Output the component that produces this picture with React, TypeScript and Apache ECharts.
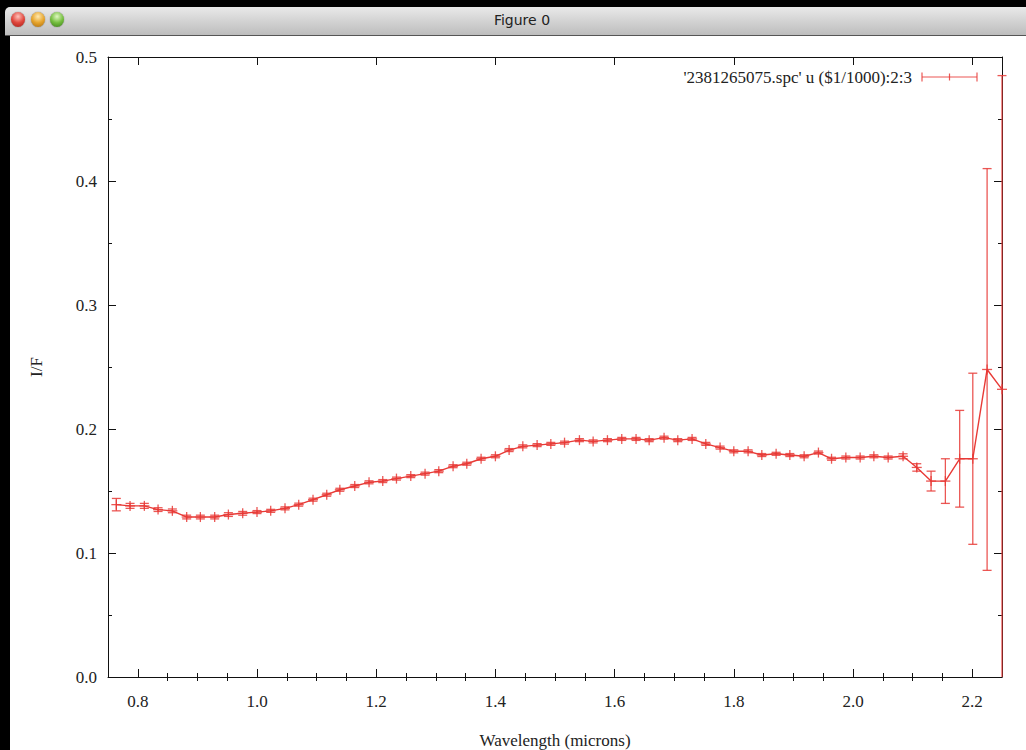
import React, { useEffect, useRef } from "react";
import * as echarts from "echarts";

// ---- data ----
const WAVELENGTH = [
  0.764, 0.787, 0.811, 0.834, 0.858, 0.882, 0.905, 0.929, 0.952, 0.976,
  1.000, 1.023, 1.047, 1.070, 1.094, 1.117, 1.139, 1.164, 1.188, 1.211,
  1.234, 1.258, 1.282, 1.305, 1.329, 1.352, 1.376, 1.400, 1.423, 1.446,
  1.470, 1.493, 1.516, 1.541, 1.564, 1.588, 1.612, 1.636, 1.658, 1.683,
  1.706, 1.730, 1.753, 1.777, 1.800, 1.824, 1.847, 1.871, 1.894, 1.918,
  1.942, 1.964, 1.988, 2.012, 2.035, 2.059, 2.084, 2.107, 2.131, 2.155,
  2.179, 2.201, 2.225, 2.250,
];
const IF_VALUE = [
  0.139, 0.138, 0.138, 0.135, 0.134, 0.129, 0.129, 0.129, 0.131, 0.132,
  0.133, 0.134, 0.136, 0.139, 0.143, 0.147, 0.151, 0.154, 0.157, 0.158,
  0.160, 0.162, 0.164, 0.166, 0.170, 0.172, 0.176, 0.178, 0.183, 0.186,
  0.187, 0.188, 0.189, 0.191, 0.190, 0.191, 0.192, 0.192, 0.191, 0.193,
  0.191, 0.192, 0.188, 0.185, 0.182, 0.182, 0.179, 0.180, 0.179, 0.178,
  0.181, 0.176, 0.177, 0.177, 0.178, 0.177, 0.178, 0.169, 0.158, 0.158,
  0.176, 0.176, 0.248, 0.232,
];
const IF_ERROR = [
  0.005, 0.002, 0.002, 0.0015, 0.0015, 0.0015, 0.0015, 0.0015, 0.0015, 0.0015,
  0.0012, 0.0012, 0.0012, 0.0012, 0.0012, 0.0012, 0.0012, 0.0012, 0.0012, 0.0012,
  0.0012, 0.0012, 0.0012, 0.0012, 0.0012, 0.0012, 0.0012, 0.0012, 0.0012, 0.0012,
  0.0012, 0.0012, 0.0012, 0.0012, 0.0012, 0.0012, 0.0012, 0.0012, 0.0012, 0.0012,
  0.0012, 0.0012, 0.0012, 0.0012, 0.0012, 0.0012, 0.0012, 0.0012, 0.0012, 0.0012,
  0.0012, 0.0012, 0.0012, 0.0012, 0.0012, 0.0012, 0.002, 0.003, 0.008, 0.018,
  0.039, 0.069, 0.162, 0.253,
];
const X_MAJOR_TICKS = [0.8, 1.0, 1.2, 1.4, 1.6, 1.8, 2.0, 2.2];
const X_MINOR_TICKS = [
  0.85, 0.9, 0.95, 1.05, 1.1, 1.15, 1.25, 1.3, 1.35, 1.45, 1.5, 1.55,
  1.65, 1.7, 1.75, 1.85, 1.9, 1.95, 2.05, 2.1, 2.15,
];
const X_MIN = 0.75;
const X_MAX = 2.25;
const Y_MIN = 0.0;
const Y_MAX = 0.5;
const Y_STEP = 0.1;
const LEGEND_LABEL = "'2381265075.spc' u ($1/1000):2:3";
const X_NAME = "Wavelength (microns)";
const Y_NAME = "I/F";
const WINDOW_TITLE = "Figure 0";

const RED = "#e83a36";
const SERIF = "'Liberation Serif', 'Times New Roman', serif";
const FS = 17;
const AXIS_COLOR = "#111";
const LABEL_COLOR = "#222";

export default function App() {
  const ref = useRef<HTMLDivElement>(null);

  useEffect(() => {
    if (!ref.current) return;
    const chart = echarts.init(ref.current, undefined, { renderer: "svg" });

    const lineStyle = { color: AXIS_COLOR, width: 1 };
    const fmt = (v: number) => v.toFixed(1);

    const xBase = {
      type: "value" as const,
      min: X_MIN,
      max: X_MAX,
      gridIndex: 0,
      splitLine: { show: false },
    };
    const yBase = {
      type: "value" as const,
      min: Y_MIN,
      max: Y_MAX,
      interval: Y_STEP,
      gridIndex: 0,
      splitLine: { show: false },
      minorTick: { show: true, splitNumber: 2, length: 4, lineStyle },
      minorSplitLine: { show: false },
    };

    const option: any = {
      animation: false,
      backgroundColor: "transparent",
      grid: {
        left: 108,
        top: 57,
        width: 894,
        height: 620,
        containLabel: false,
        outerBoundsMode: "none",
      },
      xAxis: [
        {
          ...xBase,
          position: "bottom",
          axisLine: { show: true, onZero: false, lineStyle },
          axisTick: { show: true, inside: true, length: 8, lineStyle, customValues: X_MAJOR_TICKS },
          axisLabel: {
            show: true,
            customValues: X_MAJOR_TICKS,
            formatter: fmt,
            margin: 16,
            color: LABEL_COLOR,
            fontFamily: SERIF,
            fontSize: FS,
          },
          name: X_NAME,
          nameLocation: "middle",
          nameGap: 55,
          nameTextStyle: { color: LABEL_COLOR, fontFamily: SERIF, fontSize: FS },
        },
        {
          ...xBase,
          position: "bottom",
          axisLine: { show: false },
          axisTick: { show: true, inside: true, length: 4, lineStyle, customValues: X_MINOR_TICKS },
          axisLabel: { show: false },
        },
        {
          ...xBase,
          position: "top",
          axisLine: { show: true, onZero: false, lineStyle },
          axisTick: { show: true, inside: true, length: 8, lineStyle, customValues: X_MAJOR_TICKS },
          axisLabel: { show: false },
        },
        {
          ...xBase,
          position: "top",
          axisLine: { show: false },
          axisTick: { show: true, inside: true, length: 4, lineStyle, customValues: X_MINOR_TICKS },
          axisLabel: { show: false },
        },
      ],
      yAxis: [
        {
          ...yBase,
          position: "left",
          axisLine: { show: true, onZero: false, lineStyle },
          axisTick: { show: true, inside: true, length: 8, lineStyle },
          axisLabel: {
            show: true,
            formatter: fmt,
            margin: 11,
            color: LABEL_COLOR,
            fontFamily: SERIF,
            fontSize: FS,
          },
          name: Y_NAME,
          nameLocation: "middle",
          nameGap: 63,
          nameRotate: 90,
          nameTextStyle: { color: LABEL_COLOR, fontFamily: SERIF, fontSize: FS },
        },
        {
          ...yBase,
          position: "right",
          axisLine: { show: true, onZero: false, lineStyle },
          axisTick: { show: true, inside: true, length: 8, lineStyle },
          axisLabel: { show: false },
        },
      ],
      graphic: [
        {
          type: "text",
          x: 912,
          y: 77,
          style: {
            text: LEGEND_LABEL,
            fill: LABEL_COLOR,
            font: `${FS}px ${SERIF}`,
            align: "right",
            verticalAlign: "middle",
          },
        },
        {
          type: "group",
          children: [
            { type: "line", shape: { x1: 922, y1: 77, x2: 977, y2: 77 }, style: { stroke: RED, lineWidth: 1.2, opacity: 0.85 } },
            { type: "line", shape: { x1: 922, y1: 72.5, x2: 922, y2: 81.5 }, style: { stroke: RED, lineWidth: 1.2, opacity: 0.85 } },
            { type: "line", shape: { x1: 977, y1: 72.5, x2: 977, y2: 81.5 }, style: { stroke: RED, lineWidth: 1.2, opacity: 0.85 } },
            { type: "line", shape: { x1: 949.5, y1: 73.5, x2: 949.5, y2: 80.5 }, style: { stroke: RED, lineWidth: 1.2, opacity: 0.85 } },
          ],
        },
      ],
      series: [
        {
          type: "line",
          xAxisIndex: 0,
          yAxisIndex: 0,
          data: WAVELENGTH.map((w, i) => [w, IF_VALUE[i]]),
          showSymbol: false,
          symbol: "none",
          lineStyle: { color: RED, width: 1.4 },
          silent: true,
          z: 2,
        },
        {
          type: "custom",
          xAxisIndex: 0,
          yAxisIndex: 0,
          data: WAVELENGTH.map((w, i) => [w, IF_VALUE[i], IF_ERROR[i]]),
          encode: { x: 0, y: 1 },
          clip: false,
          silent: true,
          z: 3,
          renderItem: (params: any, api: any) => {
            const x = api.value(0);
            const y = api.value(1);
            const e = api.value(2);
            const c = api.coord([x, y]);
            const top = api.coord([x, y + e]);
            const bot = api.coord([x, y - e]);
            const cs = params.coordSys;
            const yTop = Math.max(top[1], cs.y);
            const yBot = Math.min(bot[1], cs.y + cs.height);
            const st = { stroke: RED, lineWidth: 1.3, opacity: 0.85 };
            const cap = 4.5;
            const arm = 5;
            const children: any[] = [
              { type: "line", shape: { x1: c[0], y1: yTop, x2: c[0], y2: yBot }, style: st },
              { type: "line", shape: { x1: c[0] - arm, y1: c[1], x2: c[0] + arm, y2: c[1] }, style: st },
              { type: "line", shape: { x1: c[0], y1: c[1] - arm, x2: c[0], y2: c[1] + arm }, style: st },
            ];
            if (top[1] >= cs.y) {
              children.push({ type: "line", shape: { x1: c[0] - cap, y1: top[1], x2: c[0] + cap, y2: top[1] }, style: st });
            }
            if (bot[1] <= cs.y + cs.height) {
              children.push({ type: "line", shape: { x1: c[0] - cap, y1: bot[1], x2: c[0] + cap, y2: bot[1] }, style: st });
            }
            return { type: "group", children };
          },
        },
      ],
    };

    chart.setOption(option);
    return () => chart.dispose();
  }, []);

  const dot = (left: number, c1: string, c2: string, c3: string) => (
    <div
      style={{
        position: "absolute",
        left: left - 7,
        top: 12,
        width: 14,
        height: 15,
        borderRadius: "50%",
        background: `radial-gradient(circle at 50% 30%, ${c1} 0%, ${c2} 50%, ${c3} 100%)`,
        boxShadow: "0 0 1px rgba(0,0,0,0.7)",
      }}
    />
  );

  return (
    <div
      style={{
        position: "fixed",
        left: 0,
        top: 0,
        width: 1026,
        height: 750,
        background: "#000",
        overflow: "hidden",
      }}
    >
      <div
        style={{
          position: "absolute",
          left: 5,
          top: 7,
          width: 1021,
          height: 28,
          background: "linear-gradient(#e9e9e9, #bdbdbd)",
          borderTopLeftRadius: 5,
          borderBottom: "1px solid #555",
        }}
      />
      {dot(18, "#ffc2ba", "#e0463c", "#a3201a")}
      {dot(38, "#ffe9b0", "#e6a42c", "#a86c12")}
      {dot(57, "#dff7c0", "#74be3e", "#3a7a1a")}
      <div
        style={{
          position: "absolute",
          left: 0,
          top: 12,
          width: 1044,
          textAlign: "center",
          fontFamily: "'DejaVu Sans', 'Liberation Sans', sans-serif",
          fontSize: 14,
          color: "#222",
          lineHeight: "17px",
        }}
      >
        {WINDOW_TITLE}
      </div>
      <div
        style={{
          position: "absolute",
          left: 10,
          top: 36,
          width: 1016,
          height: 714,
          background: "#fff",
        }}
      />
      <div
        ref={ref}
        style={{ position: "absolute", left: 0, top: 0, width: 1026, height: 750 }}
      />
    </div>
  );
}
